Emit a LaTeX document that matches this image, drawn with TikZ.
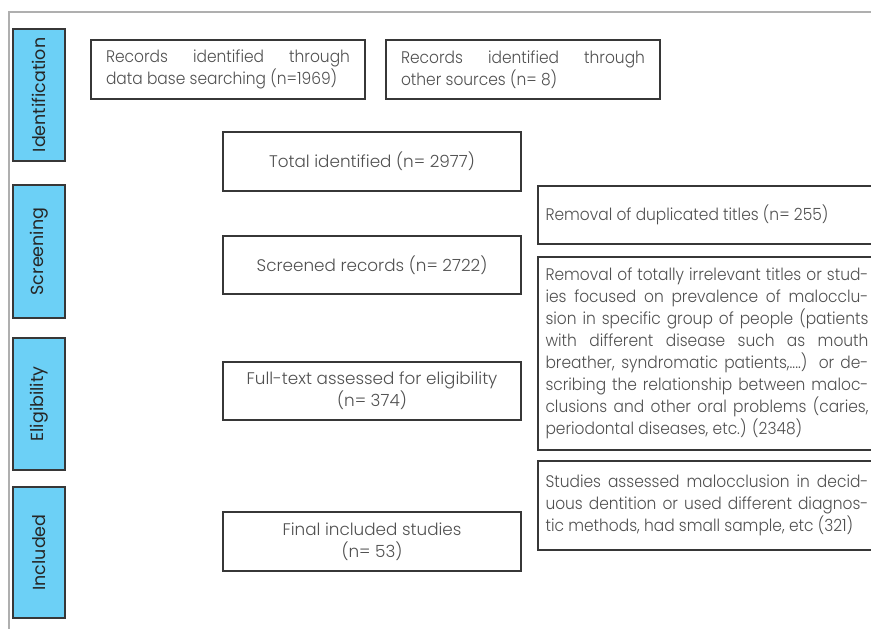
\documentclass[tikz,border=0pt]{standalone}
\usepackage{fontspec}
\setmainfont{Poppins}[UprightFont={* Light}]
\newfontfamily\phasefont{Poppins}
\newfontfamily\sidefont{Poppins Light}[FakeStretch = 0.92]
\usepackage{xcolor}
\definecolor{phaseblue}{RGB}{108,208,246}
\definecolor{boxline}{RGB}{55,55,55}
\definecolor{txtgray}{RGB}{80,80,80}
\definecolor{framegray}{RGB}{175,175,175}

\tikzset{
    phase/.style = {draw = boxline, fill = phaseblue, line width = 1.1pt,
        rotate = 90, inner sep = 0pt, minimum height = 52pt,
        font = \phasefont\fontsize{17.5}{19}\selectfont, text = black!85},
    stagebox/.style = {draw = boxline, line width = 1.1pt, inner sep = 0pt,
        align = center, text = txtgray,
        font = \fontsize{16.8}{22}\selectfont},
    recbox/.style = {stagebox, align = justify, text width = 244pt,
        minimum width = 274pt, minimum height = 59pt,
        font = \sidefont\fontsize{16.8}{22}\selectfont},
    sidebox/.style = {stagebox, align = justify, text width = 323pt,
        minimum width = 338pt, font = \sidefont\fontsize{16.8}{22}\selectfont}
}

\begin{document}
\begin{tikzpicture}[x = 1pt, y = -1pt]
        \useasboundingbox (0, 0) rectangle (871, 629);
        \clip (0, 0) rectangle (871, 629);
        \draw[framegray, line width = 1.5pt] (9, 629) -- (9, 12) -- (871, 12);

        \node[phase, minimum width = 132pt] (ident) at (39, 95) {Identification};
        \node[phase, minimum width = 133pt] (screen) at (39, 251.5) {Screening};
        \node[phase, minimum width = 132pt] (elig) at (39, 404) {Eligibility};
        \node[phase, minimum width = 131pt] (incl) at (39, 552.5) {Included};

        \node[recbox] (dbrec) at (228, 69.5)
            {Records identified through\linebreak data base searching (n=1969)};
        \node[recbox] (othrec) at (523, 69.5)
            {Records identified through\linebreak other sources (n= 8)};

        \node[stagebox, minimum width = 298pt, minimum height = 59pt] (total)
            at (372, 161.5) {Total identified (n= 2977)};
        \node[stagebox, minimum width = 298pt, minimum height = 58pt] (screened)
            at (372, 265) {Screened records (n= 2722)};
        \node[stagebox, minimum width = 298pt, minimum height = 58pt] (fulltext)
            at (372, 391) {Full-text assessed for eligibility\\(n= 374)};
        \node[stagebox, minimum width = 298pt, minimum height = 59pt] (final)
            at (372, 541.5) {Final included studies\\(n= 53)};

        \node[sidebox, minimum height = 58pt] (dup) at (707, 215)
            {Removal of duplicated titles (n= 255)};
        \node[sidebox, minimum height = 193pt] (irrel) at (707, 353.5)
            {Removal of totally irrelevant titles or stud-\linebreak
            ies focused on prevalence of malocclu-\linebreak
            sion in specific group of people (patients\linebreak
            with different disease such as mouth\linebreak
            breather, syndromatic patients,....) or de-\linebreak
            scribing the relationship between maloc-\linebreak
            clusions and other oral problems (caries,\linebreak
            periodontal diseases, etc.) (2348)};
        \node[sidebox, minimum height = 89pt] (decid) at (707, 505.5)
            {Studies assessed malocclusion in decid-\linebreak
            uous dentition or used different diagnos-\linebreak
            tic methods, had small sample, etc (321)};
    \end{tikzpicture}
\end{document}
